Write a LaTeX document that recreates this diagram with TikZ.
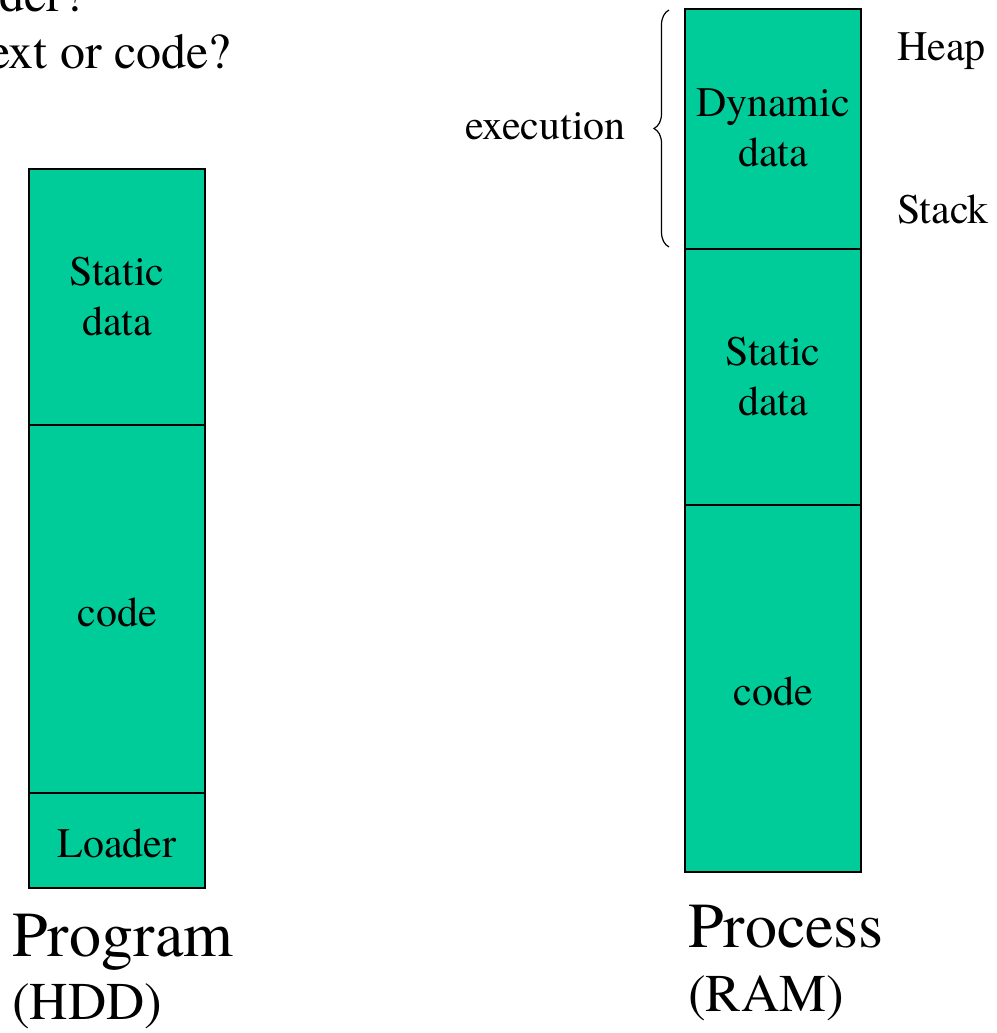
\documentclass[tikz,border=0pt]{standalone}
\usepackage{fontspec}
\setmainfont{TeX Gyre Termes}
\usetikzlibrary{decorations.pathreplacing}
\definecolor{seg}{HTML}{00CC99}
\newcommand{\lowtext}[2]{\raisebox{-#1}[\height][\depth]{#2}}
\tikzset{
  segbox/.style={draw=black, line width=2pt, fill=seg, minimum width=176pt, inner sep=0pt, align=center,
    font=\fontsize{42}{50}\selectfont},
  lbl/.style={inner sep=0pt, font=\fontsize{42}{50}\selectfont},
  big/.style={inner sep=0pt, font=\fontsize{64}{70}\selectfont},
  mid/.style={inner sep=0pt, font=\fontsize{53}{60}\selectfont},
  qtext/.style={inner sep=0pt, font=\fontsize{50}{56}\selectfont}
}
\begin{document}
\begin{tikzpicture}[x=1pt,y=-1pt]
\useasboundingbox (0,0) rectangle (996,1033);
\clip (0,0) rectangle (996,1033);
% top-left text (cut by the frame)
\node[qtext, anchor=base east] (q1) at (86,12) {loader?};
\node[qtext, anchor=base east] (q2) at (231,68) {Text or code?};
% Program column
\node[segbox, minimum height=256pt] (ls) at (117,297) {\lowtext{3pt}{\begin{tabular}{@{}c@{}}Static\\data\end{tabular}}};
\node[segbox, minimum height=368pt] (lc) at (117,609) {\lowtext{3pt}{code}};
\node[segbox, minimum height=95pt] (ll) at (117,840.5) {\lowtext{3pt}{Loader}};
\node[big, anchor=base west] (prog) at (12,956) {Program};
\node[mid, anchor=base west] (hdd) at (12,1019) {(HDD)};
% Process column
\node[segbox, minimum height=240pt] (rd) at (773,129) {\lowtext{2pt}{\begin{tabular}{@{}c@{}}Dynamic\\data\end{tabular}}};
\node[segbox, minimum height=256pt] (rs) at (773,377) {\lowtext{3pt}{\begin{tabular}{@{}c@{}}Static\\data\end{tabular}}};
\node[segbox, minimum height=367pt] (rc) at (773,688.5) {\lowtext{3pt}{code}};
\node[big, anchor=base west] (proc) at (688,947) {Process};
\node[mid, anchor=base west] (ram) at (688,1011) {(RAM)};
% side labels
\node[lbl, anchor=west] (heap) at (897,51) {Heap};
\node[lbl, anchor=west] (stack) at (897,209) {Stack};
\node[lbl, anchor=east] (exec) at (626,126) {execution};
\coordinate (bb) at (669,247);
\coordinate (bt) at (669,10);
\draw[line width=1.2pt, decorate, decoration={brace, amplitude=15pt}] (bb) -- (bt);
\end{tikzpicture}
\end{document}
